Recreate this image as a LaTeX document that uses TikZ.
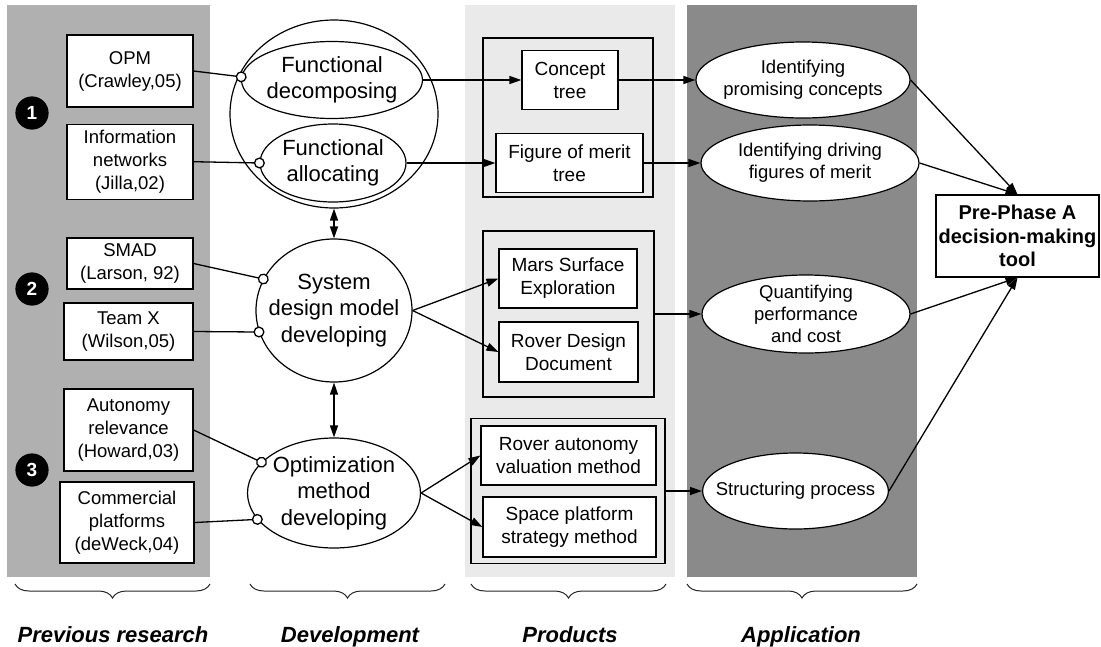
\documentclass[tikz,border=0pt]{standalone}
\usepackage{fontspec}
\setmainfont{Liberation Sans}
\usetikzlibrary{positioning, shapes.geometric, arrows.meta, decorations.pathreplacing}
\definecolor{stipple}{RGB}{176,176,176}
\definecolor{haze}{RGB}{234,234,234}
\definecolor{graphite}{RGB}{138,138,138}

\begin{document}
\begin{tikzpicture}[
  x=1pt, y=-1pt,
  every node/.style={
    draw,
    fill=white,
    line width=1.2pt,
    inner sep=0pt,
    align=center,
  },
  refbox/.style={rectangle, font=\fontsize{18.5}{23}\selectfont},
  devell/.style={ellipse, font=\fontsize{22}{26.5}\selectfont},
  prodbox/.style={rectangle, font=\fontsize{19}{23}\selectfont},
  prodframe/.style={rectangle, fill=none},
  appell/.style={ellipse, font=\fontsize{18.5}{22}\selectfont},
  toolbox/.style={rectangle, font=\fontsize{20}{23.5}\selectfont\bfseries},
  numdot/.style={circle, fill=black, minimum size=32pt, text=white, font=\fontsize{19}{19}\selectfont\bfseries},
  bandname/.style={draw=none, fill=none, anchor=base, font=\fontsize{22}{22}\selectfont\bfseries\itshape},
  feed/.style={line width=1.3pt, -{Circle[length=11pt, fill=white]}, shorten >=-5.5pt},
  flow/.style={line width=1.3pt, -{Triangle[length=12pt, width=8pt]}},
  link/.style={line width=1.3pt, {Triangle[length=12pt, width=8pt]}-{Triangle[length=12pt, width=8pt]}},
  groupbrace/.style={draw=black!85, line width=1pt, decorate, decoration={brace, mirror, amplitude=14pt}},
]
\useasboundingbox (0,0) rectangle (1101,646);

% column backgrounds
\fill[stipple] (7,5) rectangle (210,577);
\fill[haze] (465,5) rectangle (675,577);
\fill[graphite] (687,5) rectangle (917,577);

% previous research
\node[numdot] (n1) at (32,113) {1};
\node[numdot] (n2) at (32,289) {2};
\node[numdot] (n3) at (32,470) {3};

\node[refbox, minimum width=126pt, minimum height=72pt] (opm) at (130,71) {OPM\\(Crawley,05)};
\node[refbox, minimum width=126pt, minimum height=75pt, below=16pt of opm] (infonet) {Information\\networks\\(Jilla,02)};
\node[refbox, minimum width=126pt, minimum height=51pt] (smad) at (130,263.5) {SMAD\\(Larson, 92)};
\node[refbox, minimum width=129pt, minimum height=57pt] (teamx) at (128.5,331.5) {Team X\\(Wilson,05)};
\node[refbox, minimum width=129pt, minimum height=82pt] (autonomy) at (128.5,430) {Autonomy\\relevance\\(Howard,03)};
\node[refbox, minimum width=134pt, minimum height=81pt] (commercial) at (127,522.5) {Commercial\\platforms\\(deWeck,04)};

% development
\node[devell, minimum width=208pt, minimum height=188pt] (fgroup) at (334,114) {};
\node[devell, minimum width=181pt, minimum height=77pt, inner xsep=-2pt] (fdec) at (332,80) {Functional\\decomposing};
\node[devell, minimum width=146pt, minimum height=78pt] (falloc) at (333,163) {Functional\\allocating};
\node[devell, minimum width=156pt, minimum height=143pt, inner xsep=-11pt] (sysdes) at (334,310.5) {System\\design model\\developing};
\node[devell, minimum width=173pt, minimum height=110pt] (optim) at (334,493) {Optimization\\method\\developing};

% products
\node[prodframe, minimum width=170pt, minimum height=159pt] (frame1) at (568,117.5) {};
\node[prodframe, minimum width=171pt, minimum height=166pt] (frame2) at (568.5,314) {};
\node[prodframe, minimum width=194pt, minimum height=145pt] (frame3) at (568,491) {};
\node[prodbox, minimum width=96pt, minimum height=59pt] (concept) at (570,80) {Concept\\tree};
\node[prodbox, minimum width=147pt, minimum height=59pt] (fom) at (569.5,163) {Figure of merit\\tree};
\node[prodbox, minimum width=138pt, minimum height=59pt] (mars) at (568,278.5) {Mars Surface\\Exploration};
\node[prodbox, minimum width=139pt, minimum height=60pt] (rdd) at (568.5,352) {Rover Design\\Document};
\node[prodbox, minimum width=175pt, minimum height=59pt] (rav) at (568.5,455.5) {Rover autonomy\\valuation method};
\node[prodbox, minimum width=173pt, minimum height=60pt] (spm) at (569.5,527) {Space platform\\strategy method};

% application
\node[appell, minimum width=214pt, minimum height=76pt, inner xsep=-4pt] (ipc) at (803,80) {Identifying\\promising concepts};
\node[appell, minimum width=218pt, minimum height=76pt] (idf) at (810,163) {Identifying driving\\figures of merit};
\node[appell, minimum width=208pt, minimum height=78pt, inner ysep=-4pt] (qpc) at (806,314) {Quantifying\\performance\\and cost};
\node[appell, minimum width=185pt, minimum height=76pt, inner xsep=-14pt] (sp) at (795.5,491) {Structuring process};

\node[toolbox, minimum width=163pt, minimum height=82pt] (pre) at (1017.5,236) {Pre-Phase A\\decision-making\\tool};

% connectors
\draw[feed] (opm.east) -- (fdec.178);
\draw[feed] (infonet.east) -- (falloc.west);
\draw[feed] (smad.east) -- (sysdes.156);
\draw[feed] (teamx.east) -- (sysdes.196);
\draw[feed] (autonomy.east) -- (optim.157);
\draw[feed] (commercial.east) -- (optim.199);

\draw[link] (fgroup.south) -- (sysdes.north);
\draw[link] (sysdes.south) -- (optim.north);

\draw[flow] (fdec.east) -- (concept.west);
\draw[flow] (falloc.east) -- (fom.west);
\draw[flow] (sysdes.east) -- (mars.west);
\draw[flow] (sysdes.east) -- (rdd.west);
\draw[flow] (optim.east) -- (rav.west);
\draw[flow] (optim.east) -- (spm.west);

\draw[flow] (concept.east) -- (ipc.west);
\draw[flow] (fom.east) -- (idf.west);
\draw[flow] (frame2.east) -- (qpc.west);
\draw[flow] (frame3.east) -- (sp.west);

\draw[flow] (ipc.east) -- (pre.north);
\draw[flow] (idf.east) -- (pre.north);
\draw[flow] (qpc.east) -- (pre.south);
\draw[flow] (sp.east) -- (pre.south);

% column braces and names
\draw[groupbrace] (15,584) -- (210,584);
\draw[groupbrace] (250,584) -- (445,584);
\draw[groupbrace] (471,584) -- (666,584);
\draw[groupbrace] (687,584) -- (917,584);

\node[bandname] (lprev) at (113,642) {Previous research};
\node[bandname] (ldev) at (350,642) {Development};
\node[bandname] (lprod) at (570,642) {Products};
\node[bandname] (lapp) at (801,642) {Application};

\end{tikzpicture}
\end{document}
